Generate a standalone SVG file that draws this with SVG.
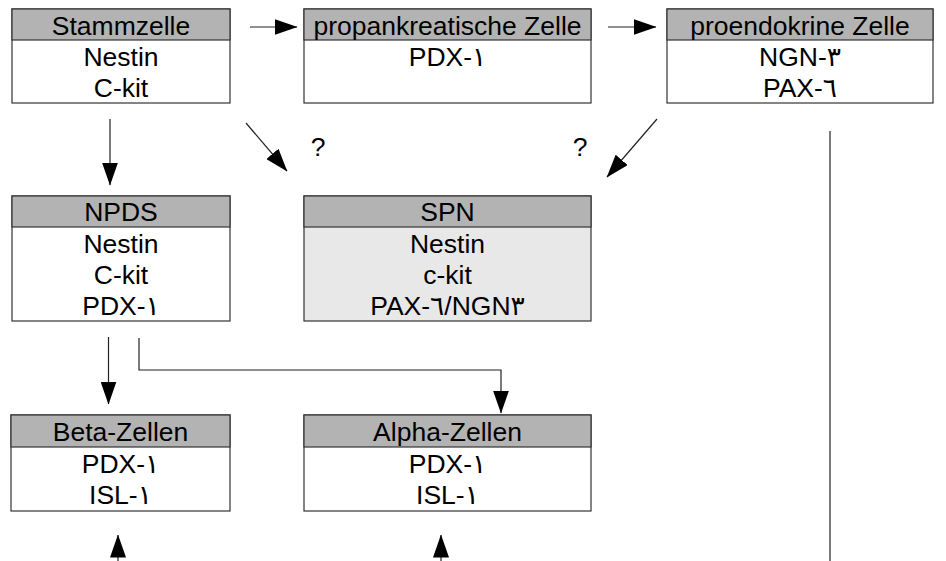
<svg xmlns="http://www.w3.org/2000/svg" width="946" height="561" viewBox="0 0 946 561">
<style>
.box{fill:#ffffff;stroke:#333333;stroke-width:1.2}
.box2{fill:#e8e8e8;stroke:#333333;stroke-width:1.2}
.hdr{fill:#b3b3b3;stroke:#333333;stroke-width:1.2}
text{font-family:"Liberation Sans","DejaVu Sans",Arial,sans-serif;font-size:26.5px;fill:#000;text-anchor:middle}
.con{fill:none;stroke:#222222;stroke-width:1.2}
</style>
<defs>
<marker id="ah" markerUnits="userSpaceOnUse" markerWidth="23" markerHeight="16" viewBox="0 0 23 16" refX="22.5" refY="8" orient="auto">
<path d="M0,0 L23,8 L0,16 z" fill="#000"/>
</marker>
</defs>
<rect width="946" height="561" fill="#ffffff"/>

<g id="stammzelle">
<rect class="box" x="12" y="9" width="218" height="94"/>
<rect class="hdr" x="12" y="9" width="218" height="31"/>
<text x="121" y="35">Stammzelle</text>
<text x="121" y="65.5">Nestin</text>
<text x="121" y="96.5">C-kit</text>
</g>

<g id="propankreatische">
<rect class="box" x="304" y="9" width="287" height="94"/>
<rect class="hdr" x="304" y="9" width="287" height="31"/>
<text x="447.5" y="35">propankreatische Zelle</text>
<text x="447.5" y="65.5">PDX-١</text>
</g>

<g id="proendokrine">
<rect class="box" x="667" y="9" width="266" height="94"/>
<rect class="hdr" x="667" y="9" width="266" height="31"/>
<text x="800" y="35">proendokrine Zelle</text>
<text x="800" y="65.5">NGN-٣</text>
<text x="800" y="96.5">PAX-٦</text>
</g>

<g id="npds">
<rect class="box" x="12" y="196" width="218" height="125"/>
<rect class="hdr" x="12" y="196" width="218" height="31"/>
<text x="121" y="221">NPDS</text>
<text x="121" y="252.5">Nestin</text>
<text x="121" y="283.5">C-kit</text>
<text x="121" y="314.5">PDX-١</text>
</g>

<g id="spn">
<rect class="box2" x="304" y="196" width="287" height="125"/>
<rect class="hdr" x="304" y="196" width="287" height="31"/>
<text x="447.5" y="221">SPN</text>
<text x="447.5" y="252.5">Nestin</text>
<text x="447.5" y="283.5">c-kit</text>
<text x="447.5" y="314.5">PAX-٦/NGN٣</text>
</g>

<g id="beta">
<rect class="box" x="11" y="415" width="219" height="96"/>
<rect class="hdr" x="11" y="415" width="219" height="32"/>
<text x="120.5" y="441">Beta-Zellen</text>
<text x="120.5" y="473">PDX-١</text>
<text x="120.5" y="504">ISL-١</text>
</g>

<g id="alpha">
<rect class="box" x="304" y="415" width="287" height="96"/>
<rect class="hdr" x="304" y="415" width="287" height="32"/>
<text x="447.5" y="441">Alpha-Zellen</text>
<text x="447.5" y="473">PDX-١</text>
<text x="447.5" y="504">ISL-١</text>
</g>

<g id="labels">
<text x="318" y="156">?</text>
<text x="580" y="156">?</text>
</g>

<g id="connectors">
<path class="con" d="M250,27 H297" marker-end="url(#ah)"/>
<path class="con" d="M608,27 H656" marker-end="url(#ah)"/>
<path class="con" d="M110,119 V185" marker-end="url(#ah)"/>
<path class="con" d="M246,123 L287,171" marker-end="url(#ah)"/>
<path class="con" d="M657,119 L607,177" marker-end="url(#ah)"/>
<path class="con" d="M108.5,337 V404" marker-end="url(#ah)"/>
<path class="con" d="M139,338 V370 H501 V413" marker-end="url(#ah)"/>
<path class="con" d="M118,561 V535" marker-end="url(#ah)"/>
<path class="con" d="M441,561 V535" marker-end="url(#ah)"/>
<path class="con" d="M830,131 V561"/>
</g>
</svg>
